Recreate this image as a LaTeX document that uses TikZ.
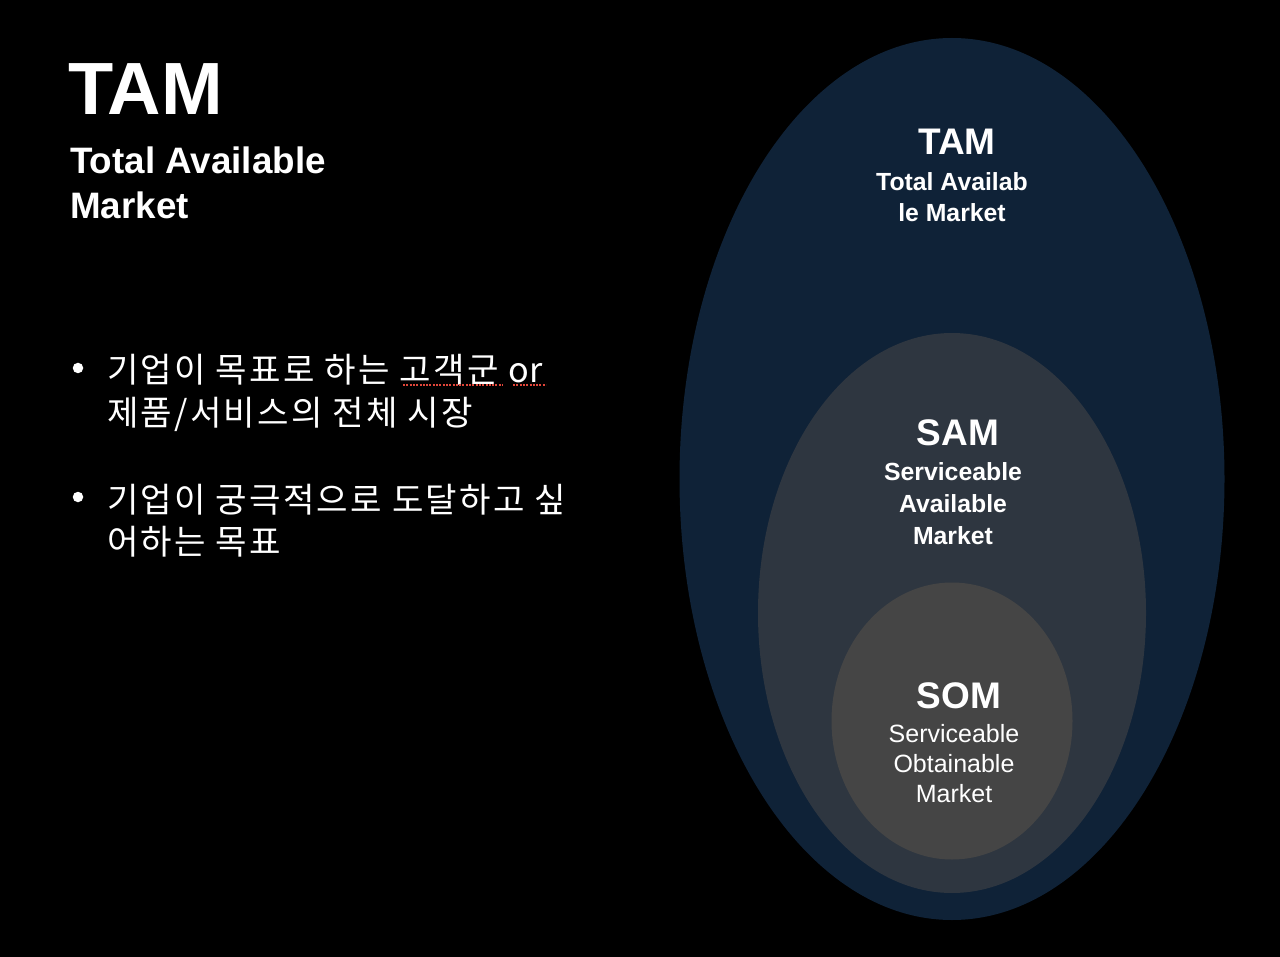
\documentclass[tikz,border=0pt]{standalone}
\usepackage{fontspec}
\setmainfont{Liberation Sans}
\newfontfamily\krfont{Noto Sans CJK KR}[LetterSpace=6.5]
\newfontfamily\krlatin{Noto Sans CJK KR}
\usepackage{tikz}
\usetikzlibrary{calc,positioning,shapes.geometric}
\definecolor{tamblue}{HTML}{0F2237}
\definecolor{samgrey}{HTML}{2E3640}
\definecolor{somgrey}{HTML}{454545}
\definecolor{spellred}{HTML}{E0463A}

\begin{document}
\begin{tikzpicture}[x=1pt,y=-1pt]

\tikzset{market/.style={shape=ellipse,draw=none,inner sep=0pt},
headnode/.style={text=white,inner sep=0pt,anchor=base,font=\bfseries\fontsize{37}{40}\selectfont},
boldline/.style={text=white,inner sep=0pt,anchor=base,font=\bfseries\fontsize{24.8}{28}\selectfont},
plainline/.style={text=white,inner sep=0pt,anchor=base,font=\fontsize{25}{28}\selectfont},
titleline/.style={text=white,inner sep=0pt,anchor=base west,font=\bfseries\fontsize{36.8}{40}\selectfont},
bulletline/.style={text=white,inner sep=0pt,anchor=base west,font=\krfont\fontsize{34.2}{40}\selectfont},
bulletdot/.style={shape=circle,fill=white,inner sep=0pt,minimum size=10.5pt},
spellmark/.style={spellred,line width=2.2pt,dash pattern=on 2pt off 1.3pt}}

% Background
\fill[black] (0,0) rectangle (1280,957);
\useasboundingbox (0,0) rectangle (1280,957);

% Title
\node[titleline,font=\bfseries\fontsize{74}{80}\selectfont] (title) at (68,115) {TAM};
\node[titleline] (title1) at (70,174) {Total Available};
\node[titleline] (title2) at (70,219) {Market};

% Bullets
\node[bulletdot] (dot1) at (78,368) {};
\node[bulletline] (b11) at (107,383) {기업이 목표로 하는 고객군 {\krlatin or}};
\node[bulletline] (b12) at (107,425) {제품/서비스의 전체 시장};
\node[bulletdot] (dot2) at (78,497) {};
\node[bulletline] (b21) at (107,512) {기업이 궁극적으로 도달하고 싶};
\node[bulletline] (b22) at (107,554) {어하는 목표};

% spell check marks
\draw[spellmark] (403,385) -- (503,385);
\draw[spellmark] (513,385) -- (546,385);

% Markets
\node[market,fill=tamblue,minimum width=545pt,minimum height=882pt] (tam) at (952,479) {};
\node[market,fill=samgrey,minimum width=388pt,minimum height=560pt] (sam) at (952,613) {};
\node[market,fill=somgrey,minimum width=241pt,minimum height=277pt] (som) at (952,721) {};

% TAM labels
\node[headnode] (tamhead) at (957,155) {TAM};
\foreach \txt/\y [count=\i] in {Total Availab/191,le Market/222} \node[boldline] (tamline\i) at (952,\y) {\txt};

% SAM labels
\node[headnode] (samhead) at (958,446) {SAM};
\foreach \txt/\y [count=\i] in {Serviceable/480,Available/512,Market/544} \node[boldline] (samline\i) at (953,\y) {\txt};

% SOM labels
\node[headnode] (somhead) at (959,708) {SOM};
\foreach \txt/\y [count=\i] in {Serviceable/742,Obtainable/772,Market/802} \node[plainline] (somline\i) at (954,\y) {\txt};

\end{tikzpicture}
\end{document}
